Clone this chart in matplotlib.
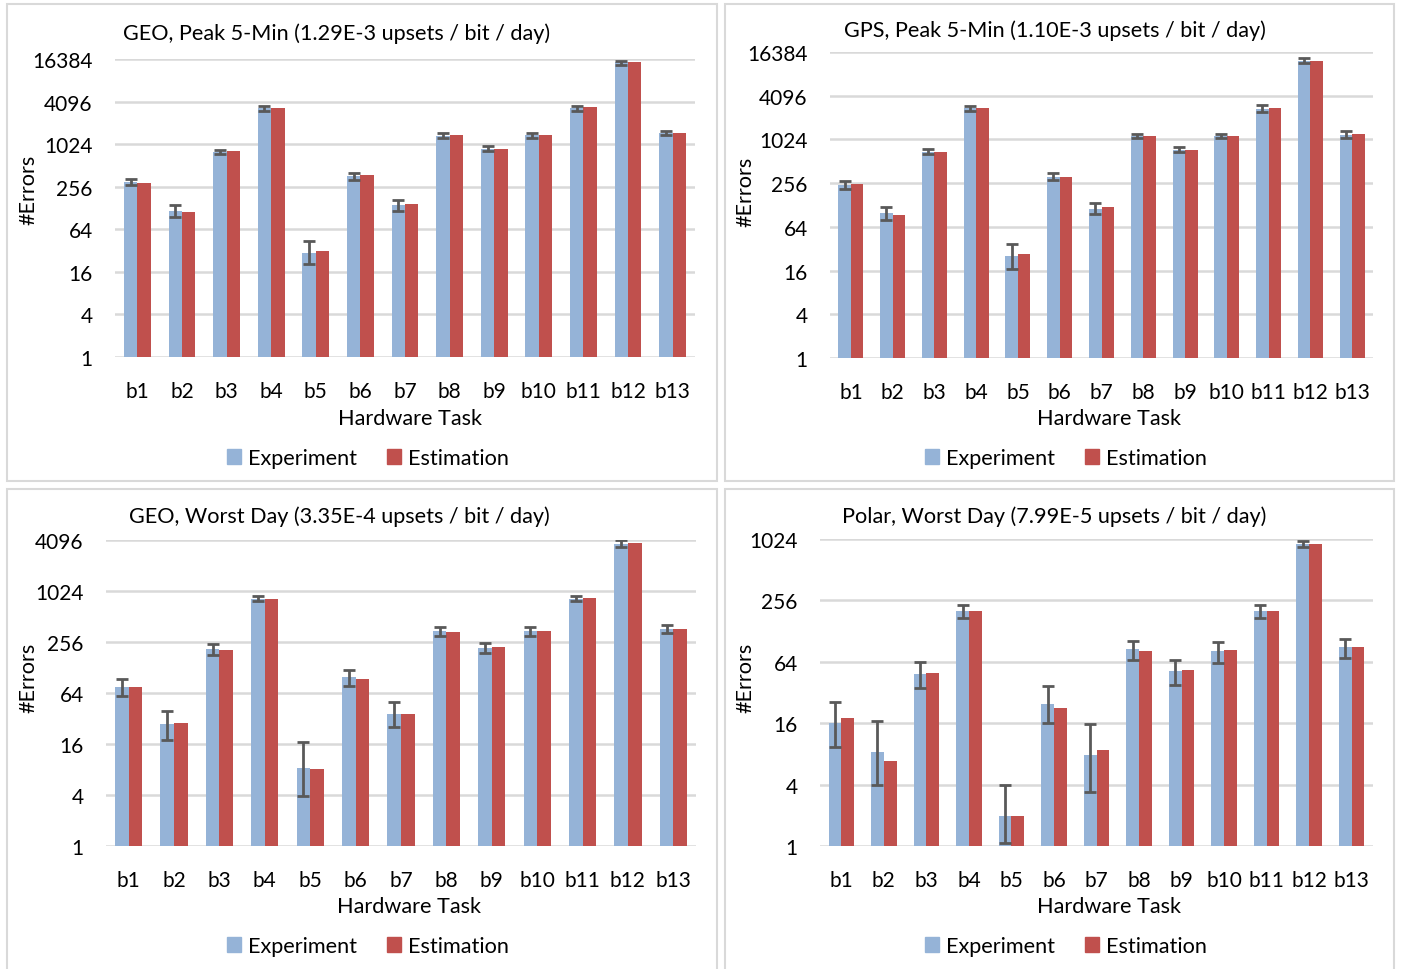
import numpy as np
import matplotlib
matplotlib.use("Agg")
import matplotlib.pyplot as plt
from matplotlib.patches import Rectangle, Patch

plt.rcParams['font.family'] = ['Lato', 'DejaVu Sans']

# ---- data -------------------------------------------------------------
tasks = ["b1", "b2", "b3", "b4", "b5", "b6", "b7", "b8", "b9", "b10", "b11", "b12", "b13"]

geo_peak_exp = [300, 116, 797, 3290, 30, 364, 142, 1330, 870, 1360, 3290, 14650, 1450]
geo_peak_est = [290, 114, 824, 3360, 32, 375, 144, 1360, 880, 1370, 3380, 15100, 1450]
geo_peak_lo = [268, 95, 739, 3040, 20.7, 322, 117, 1234, 815, 1260, 3010, 13570, 1374]
geo_peak_hi = [333, 139, 860, 3550, 44.4, 405, 166, 1450, 949, 1450, 3550, 15600, 1565]

gps_peak_exp = [238, 99, 687, 2760, 25.4, 313, 113, 1144, 740, 1130, 2700, 12420, 1193]
gps_peak_est = [248, 94, 687, 2780, 26.8, 310, 119, 1130, 735, 1140, 2780, 12420, 1200]
gps_peak_lo = [214, 80, 638, 2560, 16.6, 279, 95.6, 1061, 686, 1055, 2455, 11520, 1074]
gps_peak_hi = [276, 119, 749, 2940, 37.6, 357, 138, 1218, 805, 1210, 3035, 13500, 1340]

geo_worst_exp = [75.6, 27.6, 209, 820, 8.4, 97.7, 36.3, 342, 215, 342, 834, 3670, 362]
geo_worst_est = [74.4, 28.6, 206, 834, 8.1, 94.3, 36.3, 340, 221, 342, 840, 3740, 362]
geo_worst_lo = [58.7, 18.0, 178, 770, 3.9, 77, 25.4, 302, 188, 304, 782, 3420, 324]
geo_worst_hi = [92.5, 39.7, 240, 890, 16.9, 119, 50.3, 382, 247, 382, 898, 4130, 407]

polar_worst_exp = [16.2, 8.4, 48.3, 203, 1.95, 24.5, 7.77, 84.5, 52, 80.8, 203, 908, 88.5]
polar_worst_est = [18.1, 6.8, 49.8, 202, 1.95, 22.7, 8.7, 82.5, 53.7, 83.3, 203, 908, 88.5]
polar_worst_lo = [9.3, 3.93, 35.7, 172, 1.08, 15.9, 3.35, 66.8, 37.6, 62.5, 172, 855, 70]
polar_worst_hi = [25.8, 17, 64.4, 229, 3.93, 36.8, 15.7, 103, 66.8, 100, 229, 977, 108]

titles = [
    "GEO, Peak 5-Min (1.29E-3 upsets / bit / day)",
    "GPS, Peak 5-Min (1.10E-3 upsets / bit / day)",
    "GEO, Worst Day (3.35E-4 upsets / bit / day)",
    "Polar, Worst Day (7.99E-5 upsets / bit / day)",
]
yticks_peak = [1, 4, 16, 64, 256, 1024, 4096, 16384]
yticks_geo_worst = [1, 4, 16, 64, 256, 1024, 4096]
yticks_polar_worst = [1, 4, 16, 64, 256, 1024]

# ---- styling ----------------------------------------------------------
W, H = 1405, 970
BLUE = "#95B3D7"
RED = "#C0504D"
GRID = "#D9D9D9"
ERR = "#595959"
FS = 15
FS_TEXT = 15.6

fig = plt.figure(figsize=(W / 100, H / 100), dpi=100)
fig.patch.set_facecolor("white")


def px_axes(left, top, right, bottom):
    return fig.add_axes([left / W, 1 - bottom / H, (right - left) / W, (bottom - top) / H])


def fig_xy(x, y):
    return x / W, 1 - y / H


# panel frames (left, top, right, bottom in pixels)
for (l, t, r, b) in [(7, 5, 717, 482), (725, 5, 1394, 482),
                     (7, 490, 717, 972), (725, 490, 1394, 972)]:
    fig.patches.append(Rectangle((l / W, 1 - b / H), (r - l) / W, (b - t) / H,
                                 transform=fig.transFigure, fill=False,
                                 edgecolor=GRID, lw=1.5))

panels = [
    dict(axes=(115, 60, 695, 358), exp=geo_peak_exp, est=geo_peak_est,
         lo=geo_peak_lo, hi=geo_peak_hi, ticks=yticks_peak,
         title=(337, 34), ylab=(28, 190), xlab=(410, 419), leg=(368, 459)),
    dict(axes=(830, 53, 1373, 359), exp=gps_peak_exp, est=gps_peak_est,
         lo=gps_peak_lo, hi=gps_peak_hi, ticks=yticks_peak,
         title=(1055, 31), ylab=(745, 192), xlab=(1109, 419), leg=(1066, 459)),
    dict(axes=(106, 541, 696, 847), exp=geo_worst_exp, est=geo_worst_est,
         lo=geo_worst_lo, hi=geo_worst_hi, ticks=yticks_geo_worst,
         title=(339, 517), ylab=(28, 678), xlab=(409, 907), leg=(368, 947)),
    dict(axes=(820, 540, 1373, 847), exp=polar_worst_exp, est=polar_worst_est,
         lo=polar_worst_lo, hi=polar_worst_hi, ticks=yticks_polar_worst,
         title=(1054, 517), ylab=(745, 678), xlab=(1109, 907), leg=(1066, 947)),
]

x = np.arange(len(tasks))
bw = 0.3

for p, title in zip(panels, titles):
    ax = px_axes(*p["axes"])
    exp = np.array(p["exp"], dtype=float)
    est = np.array(p["est"], dtype=float)
    lo = np.array(p["lo"], dtype=float)
    hi = np.array(p["hi"], dtype=float)

    ax.set_yscale("log", base=2)
    ax.bar(x - bw / 2, exp, width=bw, color=BLUE, zorder=2)
    ax.bar(x + bw / 2, est, width=bw, color=RED, zorder=2)
    ax.errorbar(x - bw / 2, exp, yerr=[exp - lo, hi - exp], fmt="none",
                ecolor=ERR, elinewidth=2, capsize=4.5, capthick=2, zorder=3)

    ax.set_xlim(-0.5, len(tasks) - 0.5)
    ax.set_ylim(1, p["ticks"][-1])
    ax.set_yticks(p["ticks"])
    ax.set_yticklabels([str(t) for t in p["ticks"]])
    ax.yaxis.set_minor_locator(matplotlib.ticker.NullLocator())
    ax.set_xticks(x)
    ax.set_xticklabels(tasks)
    ax.tick_params(axis="both", length=0, labelsize=FS, colors="black")
    ax.tick_params(axis="y", pad=16)
    ax.tick_params(axis="x", pad=17)
    ax.yaxis.grid(True, color=GRID, lw=1.8, zorder=0)
    ax.set_axisbelow(True)
    for s in ax.spines.values():
        s.set_visible(False)

    fig.text(*fig_xy(*p["title"]), title, ha="center", va="center", fontsize=FS_TEXT)
    fig.text(*fig_xy(*p["ylab"]), "#Errors", ha="center", va="center",
             rotation=90, fontsize=FS_TEXT)
    fig.text(*fig_xy(*p["xlab"]), "Hardware Task", ha="center", va="center",
             fontsize=FS_TEXT)

    handles = [Patch(color=BLUE), Patch(color=RED)]
    fig.legend(handles, ["Experiment", "Estimation"], loc="center",
               bbox_to_anchor=fig_xy(*p["leg"]), ncol=2, frameon=False,
               fontsize=FS_TEXT, handlelength=0.65, handleheight=0.65,
               handletextpad=0.3, columnspacing=1.4)

fig.savefig("out.png", dpi=100, facecolor="white")
